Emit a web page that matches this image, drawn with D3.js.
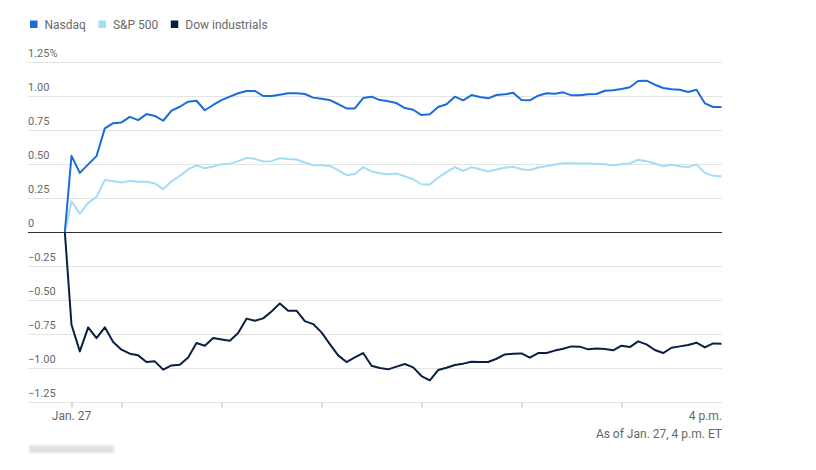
<!DOCTYPE html>
<html>
<head>
<meta charset="utf-8">
<script src="https://cdn.jsdelivr.net/npm/d3@7"></script>
<style>
  html, body { margin: 0; padding: 0; background: #fff; }
  svg { display: block; font-family: Roboto, "Noto Sans", sans-serif; }
</style>
</head>
<body>
<svg id="chart" width="816" height="470"></svg>
<script>
// ---- Data ----
const times = ["09:26",
  "09:30","09:35","09:40","09:45","09:50","09:55",
  "10:00","10:05","10:10","10:15","10:20","10:25","10:30","10:35","10:40","10:45","10:50","10:55",
  "11:00","11:05","11:10","11:15","11:20","11:25","11:30","11:35","11:40","11:45","11:50","11:55",
  "12:00","12:05","12:10","12:15","12:20","12:25","12:30","12:35","12:40","12:45","12:50","12:55",
  "13:00","13:05","13:10","13:15","13:20","13:25","13:30","13:35","13:40","13:45","13:50","13:55",
  "14:00","14:05","14:10","14:15","14:20","14:25","14:30","14:35","14:40","14:45","14:50","14:55",
  "15:00","15:05","15:10","15:15","15:20","15:25","15:30","15:35","15:40","15:45","15:50","15:55",
  "16:00"];

const nasdaq = [0,
  0.56,0.435,0.497,0.558,0.762,0.80,
  0.806,0.847,0.823,0.867,0.853,0.818,0.892,0.921,0.958,0.965,0.895,0.934,
  0.97,0.995,1.02,1.037,1.037,1.0,1.0,1.01,1.02,1.02,1.015,0.988,
  0.98,0.97,0.941,0.909,0.909,0.985,0.995,0.97,0.962,0.948,0.911,0.899,
  0.86,0.865,0.919,0.939,0.995,0.968,1.007,0.993,0.983,1.007,1.012,1.024,
  0.97,0.968,1.002,1.02,1.017,1.027,1.005,1.005,1.012,1.015,1.039,1.042,
  1.052,1.064,1.11,1.113,1.083,1.059,1.049,1.046,1.029,1.046,0.946,0.919,
  0.919];

const sp500 = [0,
  0.226,0.135,0.214,0.258,0.383,0.373,
  0.364,0.376,0.369,0.369,0.357,0.315,0.373,0.413,0.46,0.49,0.469,0.482,
  0.499,0.501,0.521,0.545,0.538,0.519,0.521,0.543,0.536,0.533,0.511,0.491,
  0.491,0.486,0.455,0.418,0.427,0.477,0.445,0.432,0.425,0.43,0.41,0.388,
  0.351,0.349,0.4,0.44,0.477,0.45,0.477,0.462,0.445,0.46,0.472,0.479,
  0.462,0.455,0.474,0.484,0.497,0.506,0.506,0.504,0.504,0.501,0.499,0.491,
  0.499,0.504,0.531,0.521,0.504,0.484,0.494,0.484,0.477,0.497,0.435,0.413,
  0.41];

const dow = [0,
  -0.682,-0.878,-0.701,-0.78,-0.701,-0.809,
  -0.865,-0.895,-0.907,-0.956,-0.951,-1.012,-0.981,-0.976,-0.922,-0.816,-0.836,-0.779,
  -0.79,-0.80,-0.743,-0.637,-0.652,-0.635,-0.584,-0.525,-0.579,-0.579,-0.655,-0.677,
  -0.738,-0.824,-0.907,-0.956,-0.922,-0.89,-0.983,-1.0,-1.01,-0.99,-0.971,-0.995,
  -1.059,-1.091,-1.015,-0.998,-0.978,-0.968,-0.954,-0.956,-0.956,-0.932,-0.9,-0.895,
  -0.893,-0.924,-0.89,-0.89,-0.872,-0.858,-0.841,-0.843,-0.863,-0.856,-0.86,-0.87,
  -0.836,-0.846,-0.804,-0.826,-0.868,-0.89,-0.851,-0.841,-0.831,-0.814,-0.849,-0.819,
  -0.821];

const seriesNames = ["Nasdaq", "S&P 500", "Dow industrials"];
const yTicks = [1.25, 1.0, 0.75, 0.5, 0.25, 0, -0.25, -0.5, -0.75, -1.0, -1.25];
const xTicks = ["09:30","10:00","11:00","12:00","13:00","14:00","15:00"];
const xStartLabel = "Jan. 27";
const xEndLabel = "4 p.m.";
const noteText = "As of Jan. 27, 4 p.m. ET";

// ---- Setup ----
const colors = { "Nasdaq": "#1a6cd8", "S&P 500": "#a3dcf6", "Dow industrials": "#0b1f42" };
const parse = d3.timeParse("%H:%M");
const svg = d3.select("#chart");

const left = 28, right = 722;
const x = d3.scaleTime()
  .domain([parse("09:30"), parse("16:00")])
  .range([71.5, 721.5]);
const y = d3.scaleLinear().domain([-1.25, 1.25]).range([402, 62]);

// Gridlines
svg.append("g").selectAll("line")
  .data(yTicks.filter(d => d !== 0))
  .join("line")
  .attr("x1", left).attr("x2", right)
  .attr("y1", d => Math.round(y(d)) + 0.5).attr("y2", d => Math.round(y(d)) + 0.5)
  .attr("stroke", "#e4e4e4").attr("stroke-width", 1);

// Y labels
const fmt = d => d === 0 ? "0" : (d === 1.25 ? "1.25%" : d3.format(".2f")(d));
svg.append("g").selectAll("text")
  .data(yTicks)
  .join("text")
  .attr("x", left).attr("y", d => y(d) - 5)
  .attr("font-size", 11).attr("fill", "#6a6a6a")
  .text(fmt);

// X axis ticks
const xAxis = d3.axisBottom(x)
  .tickValues(xTicks.map(parse))
  .tickSize(5)
  .tickFormat("");
const gx = svg.append("g").attr("transform", `translate(0,${Math.round(y(-1.25)) + 0.5})`).call(xAxis);
gx.select(".domain").remove();
gx.selectAll(".tick line").attr("stroke", "#b5b5b5");

svg.append("text").attr("x", x(parse("09:30"))).attr("y", 420)
  .attr("text-anchor", "middle").attr("font-size", 12).attr("fill", "#666")
  .text(xStartLabel);
svg.append("text").attr("x", right).attr("y", 420)
  .attr("text-anchor", "end").attr("font-size", 12).attr("fill", "#666")
  .text(xEndLabel);
svg.append("text").attr("x", right).attr("y", 438)
  .attr("text-anchor", "end").attr("font-size", 12).attr("fill", "#666")
  .text(noteText);

// Zero line
svg.append("line")
  .attr("x1", left).attr("x2", right)
  .attr("y1", Math.round(y(0)) + 0.5).attr("y2", Math.round(y(0)) + 0.5)
  .attr("stroke", "#333").attr("stroke-width", 1);

// Lines
const series = [
  { name: "Dow industrials", values: dow },
  { name: "S&P 500", values: sp500 },
  { name: "Nasdaq", values: nasdaq }
];
const line = d3.line()
  .x((d, i) => x(parse(times[i])))
  .y(d => y(d));
svg.append("g").selectAll("path")
  .data(series)
  .join("path")
  .attr("fill", "none")
  .attr("stroke", d => colors[d.name])
  .attr("stroke-width", 2)
  .attr("stroke-linejoin", "round")
  .attr("d", d => line(d.values));

// Legend
const lg = svg.append("g");
let lx = 30;
seriesNames.forEach(name => {
  lg.append("rect").attr("x", lx).attr("y", 20.5).attr("width", 7.5).attr("height", 7.5)
    .attr("fill", colors[name]);
  const t = lg.append("text").attr("x", lx + 14.5).attr("y", 28.5)
    .attr("font-size", 12).attr("fill", "#6a6a6a").text(name);
  lx += 14.5 + t.node().getComputedTextLength() + 12.5;
});

// Blurred logo placeholder
const defs = svg.append("defs");
defs.append("filter").attr("id", "blur").append("feGaussianBlur").attr("stdDeviation", 1.2);
svg.append("rect").attr("x", 29).attr("y", 445).attr("width", 85).attr("height", 8)
  .attr("fill", "#e2e2e2").attr("filter", "url(#blur)");
</script>
</body>
</html>
